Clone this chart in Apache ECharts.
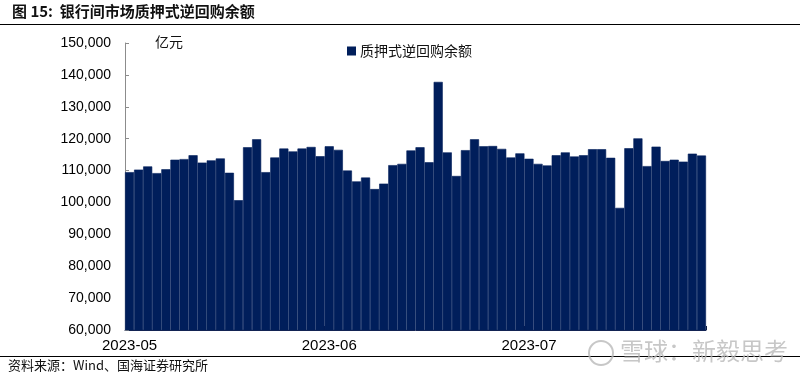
<!DOCTYPE html>
<html>
<head>
<meta charset="utf-8">
<script src="https://cdn.jsdelivr.net/npm/echarts@6/dist/echarts.min.js"></script>
<style>
html,body{margin:0;padding:0;background:#fff;}
#chart{width:800px;height:380px;}
</style>
</head>
<body>
<div id="chart"></div>
<script>
// ---- data ----
var categories = [
  '2023-05-02','2023-05-03','2023-05-04','2023-05-05','2023-05-08','2023-05-09','2023-05-10','2023-05-11','2023-05-12',
  '2023-05-15','2023-05-16','2023-05-17','2023-05-18','2023-05-19','2023-05-22','2023-05-23','2023-05-24','2023-05-25',
  '2023-05-26','2023-05-29','2023-05-30','2023-05-31',
  '2023-06-01','2023-06-02','2023-06-05','2023-06-06','2023-06-07','2023-06-08','2023-06-09','2023-06-12','2023-06-13',
  '2023-06-14','2023-06-15','2023-06-16','2023-06-19','2023-06-20','2023-06-21','2023-06-22','2023-06-23','2023-06-26',
  '2023-06-27','2023-06-28','2023-06-29','2023-06-30',
  '2023-07-03','2023-07-04','2023-07-05','2023-07-06','2023-07-07','2023-07-10','2023-07-11','2023-07-12','2023-07-13',
  '2023-07-14','2023-07-17','2023-07-18','2023-07-19','2023-07-20','2023-07-21','2023-07-24','2023-07-25','2023-07-26',
  '2023-07-27','2023-07-28'
];
var repoBalance = [
  109500,110300,111300,109200,110400,113400,113600,114800,112500,
  113200,113800,109300,100700,117300,119800,109500,114100,116900,
  116000,116900,117400,114500,
  117600,116500,110000,106600,107800,104200,105900,111700,112100,
  116300,117300,112600,137800,115700,108300,116400,119800,117600,
  117700,116800,114100,115400,
  113700,112100,111600,114800,115700,114400,114800,116700,116700,
  114000,98300,117000,120100,111400,117500,113000,113400,112800,
  115300,114700
];
var seriesName = '质押式逆回购余额';
var unitLabel = '亿元';
var titleText = '图 15:  银行间市场质押式逆回购余额';
var sourceText = '资料来源：Wind、国海证券研究所';
var watermarkText = '雪球：新毅思考';
var yMin = 60000, yMax = 150000, yStep = 10000;

function isMonthStart(idx) {
  if (idx === 0) return true;
  return categories[idx].slice(0, 7) !== categories[idx - 1].slice(0, 7);
}

var chart = echarts.init(document.getElementById('chart'), null, {renderer: 'canvas'});
var option = {
  backgroundColor: '#fff',
  animation: false,
  grid: {left: 125, right: 94, top: 43, bottom: 50, containLabel: false},
  legend: {
    data: [seriesName],
    left: 342, top: 39,
    itemWidth: 7, itemHeight: 7, itemGap: 3,
    icon: 'rect',
    textStyle: {fontFamily: 'Noto Sans CJK SC', fontSize: 14, color: '#111'}
  },
  xAxis: {
    type: 'category',
    data: categories,
    boundaryGap: true,
    axisLine: {show: true, lineStyle: {color: '#1a2550', width: 1}},
    axisTick: {show: true, inside: true, length: 4, interval: function (i) { return isMonthStart(i) && i > 0; }, lineStyle: {color: '#0c1a40'}},
    axisLabel: {
      interval: function (i) { return isMonthStart(i); },
      margin: 8,
      fontFamily: 'Liberation Sans, Arial', fontSize: 15, color: '#000',
      formatter: function (v) { return v.slice(0, 7); }
    },
    splitLine: {show: false}
  },
  yAxis: {
    type: 'value',
    min: yMin, max: yMax, interval: yStep,
    axisLine: {show: true, lineStyle: {color: '#8c8c8c', width: 1}},
    axisTick: {show: true, inside: true, length: 4, lineStyle: {color: '#8c8c8c'}},
    axisLabel: {
      margin: 14,
      fontFamily: 'Liberation Sans, Arial', fontSize: 14, color: '#000',
      formatter: function (v) { return v.toLocaleString('en-US'); }
    },
    splitLine: {show: false}
  },
  series: [{
    name: seriesName,
    type: 'bar',
    data: repoBalance,
    barCategoryGap: '0%',
    itemStyle: {color: '#001E5B', borderColor: '#001E5B', borderWidth: 0.6}
  }],
  graphic: [
    {type: 'text', left: 12, top: 4, style: {text: titleText, font: 'bold 15px "Noto Sans CJK SC"', fill: '#111'}},
    {type: 'line', shape: {x1: 0, y1: 24.5, x2: 800, y2: 24.5}, style: {stroke: '#000', lineWidth: 1}},
    {type: 'text', left: 155, top: 35, style: {text: unitLabel, font: '14px "Noto Sans CJK SC"', fill: '#111'}},
    {type: 'line', shape: {x1: 0, y1: 356.5, x2: 800, y2: 356.5}, style: {stroke: '#000', lineWidth: 1}},
    {type: 'text', left: 8, top: 359, style: {text: sourceText, font: '13px "Noto Sans CJK SC"', fill: '#111'}},
    {type: 'circle', z: 10, shape: {cx: 601, cy: 353, r: 12}, style: {fill: 'none', stroke: 'rgba(185,185,185,0.8)', lineWidth: 2}},
    {type: 'text', left: 620, top: 339, z: 10, style: {text: watermarkText, font: '24px "Noto Sans CJK SC"', fill: 'rgba(185,185,185,0.8)'}}
  ]
};
chart.setOption(option);
</script>
</body>
</html>
